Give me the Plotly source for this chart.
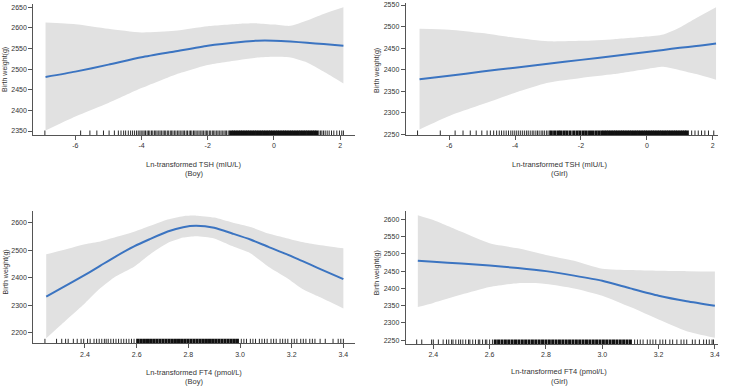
import plotly.graph_objects as go

# ---------------- data ----------------
# Panel 1: Ln TSH, Boy
tsh_boy_x = [-6.9, -6, -5, -4, -3, -2, -1, -0.5, 0, 0.5, 1, 1.5, 2.1]
tsh_boy_fit = [2481, 2494, 2511, 2529, 2543, 2557, 2566, 2569, 2569, 2567, 2564, 2561, 2557]
tsh_boy_upper = [2613, 2609, 2598, 2589, 2593, 2604, 2610, 2611, 2608, 2605, 2618, 2634, 2650]
tsh_boy_lower = [2351, 2385, 2418, 2454, 2486, 2510, 2523, 2528, 2530, 2528, 2516, 2494, 2465]
tsh_boy_rug = [-6.92, -5.84, -5.56, -5.35, -5.15, -4.98, -4.82, -4.70, -4.62, -4.54, -4.48,
               -4.40, -4.33, -4.27, -4.21, -4.15, -4.10, -4.05, -4.01, -3.96, -3.92, -3.88,
               -3.83, -3.79, -3.75, -3.70, -3.66, -3.61, -3.57, -3.53, -3.48, -3.44, -3.40,
               -3.35, -3.31, -3.27, -3.22, -3.18, -3.13, -3.09, -3.05, -3.00, -2.96, -2.91,
               -2.87, -2.83, -2.78, -2.74, -2.70, -2.65, -2.61, -2.56, -2.52, -2.48, -2.43,
               -2.39, -2.35, -2.30, -2.26, -2.21, -2.17, -2.13, -2.08, -2.04, -2.00, -1.95,
               -1.91, -1.86, -1.82, -1.78, -1.73, -1.69, -1.65, -1.60, -1.56, -1.51, -1.47,
               -1.43, -1.38, -1.34, 1.36, 1.41, 1.45, 1.50, 1.55, 1.61, 1.67, 1.74, 1.81,
               1.90, 1.98, 2.05, 2.10]
tsh_boy_rug_dense = [-1.29, -1.22, -1.15, -1.08, -1.01, -0.94, -0.87, -0.80, -0.73, -0.66,
                     -0.59, -0.52, -0.45, -0.38, -0.31, -0.24, -0.17, -0.10, -0.03, 0.04,
                     0.11, 0.18, 0.25, 0.32, 0.39, 0.46, 0.53, 0.60, 0.67, 0.74, 0.81, 0.88,
                     0.95, 1.02, 1.09, 1.16, 1.23, 1.30]

# Panel 2: Ln TSH, Girl
tsh_girl_x = [-6.9, -6, -5, -4, -3, -2, -1, 0, 0.5, 1, 1.5, 2.1]
tsh_girl_fit = [2378, 2386, 2396, 2405, 2414, 2423, 2432, 2441, 2446, 2451, 2455, 2461]
tsh_girl_upper = [2495, 2493, 2485, 2474, 2466, 2467, 2471, 2477, 2482, 2498, 2520, 2545]
tsh_girl_lower = [2262, 2293, 2320, 2347, 2370, 2381, 2390, 2402, 2407, 2399, 2390, 2377]
tsh_girl_rug = [-6.96, -6.27, -5.82, -5.58, -5.36, -5.18, -5.01, -4.85, -4.75, -4.65, -4.56,
                -4.48, -4.41, -4.34, -4.27, -4.20, -4.13, -4.07, -4.01, -3.95, -3.89, -3.83,
                -3.77, -3.71, -3.65, -3.60, -3.54, -3.48, -3.43, -3.37, -3.32, -3.27, -3.21,
                -3.16, -3.11, -3.05, -3.00, -2.95, 1.26, 1.36, 1.46, 1.56, 1.66, 1.76,
                1.87, 2.03]
tsh_girl_rug_dense = [-2.90, -2.80, -2.70, -2.62, -2.52, -2.43, -2.33, -2.22, -2.12, -2.03,
                      -1.93, -1.84, -1.74, -1.65, -1.55, -1.46, -1.37, -1.30, -1.23, -1.16,
                      -1.09, -1.02, -0.95, -0.88, -0.81, -0.74, -0.67, -0.60, -0.53, -0.46,
                      -0.39, -0.32, -0.25, -0.18, -0.11, -0.04, 0.03, 0.10, 0.17, 0.24,
                      0.31, 0.38, 0.45, 0.52, 0.59, 0.66, 0.73, 0.80, 0.87, 0.94, 1.01,
                      1.08, 1.15, 1.21]

# Panel 3: Ln FT4, Boy
ft4_boy_x = [2.25, 2.3, 2.4, 2.46, 2.52, 2.59, 2.65, 2.72, 2.78, 2.83, 2.90, 2.97, 3.04,
             3.11, 3.18, 3.24, 3.3, 3.4]
ft4_boy_fit = [2331, 2357, 2410, 2444, 2478, 2514, 2540, 2568, 2584, 2589, 2582, 2561, 2539,
               2512, 2486, 2461, 2436, 2395]
ft4_boy_upper = [2485, 2497, 2522, 2532, 2548, 2567, 2588, 2612, 2624, 2626, 2619, 2601, 2585,
                 2561, 2544, 2530, 2520, 2507]
ft4_boy_lower = [2179, 2222, 2307, 2362, 2405, 2440, 2484, 2526, 2546, 2551, 2543, 2515, 2489,
                 2440, 2400, 2360, 2333, 2288]
ft4_boy_rug = [2.245, 2.29, 2.31, 2.325, 2.335, 2.355, 2.37, 2.385, 2.395, 2.41, 2.42, 2.435,
               2.445, 2.455, 2.465, 2.475, 2.482, 2.49, 2.50, 2.51, 2.52, 2.53, 2.54, 2.55,
               2.56, 2.57, 2.58, 2.59, 2.60, 3.005, 3.015, 3.025, 3.04, 3.05, 3.06, 3.075,
               3.085, 3.095, 3.105, 3.12, 3.13, 3.14, 3.155, 3.165, 3.175, 3.185, 3.20, 3.21,
               3.22, 3.235, 3.245, 3.255, 3.27, 3.28, 3.29, 3.31, 3.33, 3.36, 3.38, 3.39, 3.40]
ft4_boy_rug_dense = [2.606, 2.618, 2.630, 2.642, 2.654, 2.666, 2.678, 2.690, 2.702, 2.714,
                     2.726, 2.738, 2.750, 2.762, 2.774, 2.786, 2.798, 2.810, 2.822, 2.834,
                     2.846, 2.858, 2.870, 2.882, 2.894, 2.906, 2.918, 2.930, 2.942, 2.954,
                     2.966, 2.978, 2.990]

# Panel 4: Ln FT4, Girl
ft4_girl_x = [2.345, 2.4, 2.5, 2.6, 2.7, 2.8, 2.9, 3.0, 3.1, 3.2, 3.3, 3.4]
ft4_girl_fit = [2480, 2477, 2472, 2466, 2459, 2450, 2437, 2422, 2400, 2379, 2363, 2350]
ft4_girl_upper = [2612, 2598, 2564, 2531, 2516, 2497, 2480, 2457, 2453, 2451, 2450, 2449]
ft4_girl_lower = [2346, 2358, 2382, 2404, 2415, 2413, 2400, 2379, 2346, 2310, 2276, 2257]
ft4_girl_rug = [2.341, 2.359, 2.394, 2.40, 2.418, 2.435, 2.447, 2.455, 2.465, 2.47, 2.48, 2.49,
                2.497, 2.505, 2.515, 2.525, 2.53, 2.54, 2.55, 2.56, 2.565, 2.575, 2.585, 2.59,
                2.60, 2.61, 3.115, 3.125, 3.135, 3.145, 3.16, 3.17, 3.18, 3.19, 3.205, 3.215,
                3.225, 3.24, 3.25, 3.265, 3.28, 3.29, 3.30, 3.32, 3.33, 3.345, 3.36, 3.37,
                3.38, 3.39, 3.395]
ft4_girl_rug_dense = [2.620, 2.632, 2.644, 2.656, 2.668, 2.680, 2.692, 2.704, 2.716, 2.728,
                      2.740, 2.752, 2.764, 2.776, 2.788, 2.800, 2.812, 2.824, 2.836, 2.848,
                      2.860, 2.872, 2.884, 2.896, 2.908, 2.920, 2.932, 2.944, 2.956, 2.968,
                      2.980, 2.992, 3.004, 3.016, 3.028, 3.040, 3.052, 3.064, 3.076, 3.088,
                      3.100]

# tick values / labels
tsh_xticks = [-6, -4, -2, 0, 2]
tsh_xticklabels = ["-6", "-4", "-2", "0", "2"]
ft4_xticks = [2.4, 2.6, 2.8, 3.0, 3.2, 3.4]
ft4_xticklabels = ["2.4", "2.6", "2.8", "3.0", "3.2", "3.4"]
p1_yticks = [2350, 2400, 2450, 2500, 2550, 2600, 2650]
p2_yticks = [2250, 2300, 2350, 2400, 2450, 2500, 2550]
p3_yticks = [2200, 2300, 2400, 2500, 2600]
p4_yticks = [2250, 2300, 2350, 2400, 2450, 2500, 2550, 2600]

x_title_tsh = "Ln-transformed TSH (mIU/L)"
x_title_ft4 = "Ln-transformed FT4 (pmol/L)"
y_title = "Birth weight(g)"
sex_boy = "(Boy)"
sex_girl = "(Girl)"

# ---------------- layout geometry ----------------
W, H = 730, 387
FONT = "Liberation Sans, Arial, sans-serif"
LINE_BLUE = "#3b74c1"
BAND = "#e1e1e1"
AXIS = "#555555"
TXT = "#333333"


def px_x(p):
    return p / W


def px_y(p):
    return 1 - p / H


panels = [
    dict(x=tsh_boy_x, fit=tsh_boy_fit, up=tsh_boy_upper, lo=tsh_boy_lower,
         rug=tsh_boy_rug, rugd=tsh_boy_rug_dense,
         xpx=(33.3, 355), ypx=(4, 135), xr=[-7.27, 2.45], yr=[2340.3, 2658],
         xt=tsh_xticks, xtl=tsh_xticklabels, yt=p1_yticks,
         t1=x_title_tsh, t2=sex_boy, tx=193.5, ty=(164, 173), yx=5, yy=70),
    dict(x=tsh_girl_x, fit=tsh_girl_fit, up=tsh_girl_upper, lo=tsh_girl_lower,
         rug=tsh_girl_rug, rugd=tsh_girl_rug_dense,
         xpx=(405.7, 717.7), ypx=(3.3, 135), xr=[-7.32, 2.15], yr=[2249, 2554],
         xt=tsh_xticks, xtl=tsh_xticklabels, yt=p2_yticks,
         t1=x_title_tsh, t2=sex_girl, tx=559, ty=(164, 173), yx=377, yy=71),
    dict(x=ft4_boy_x, fit=ft4_boy_fit, up=ft4_boy_upper, lo=ft4_boy_lower,
         rug=ft4_boy_rug, rugd=ft4_boy_rug_dense,
         xpx=(33.3, 355), ypx=(210.7, 343.3), xr=[2.2, 3.445], yr=[2161, 2644],
         xt=ft4_xticks, xtl=ft4_xticklabels, yt=p3_yticks,
         t1=x_title_ft4, t2=sex_boy, tx=193.5, ty=(372.7, 381.7), yx=5, yy=272.5),
    dict(x=ft4_girl_x, fit=ft4_girl_fit, up=ft4_girl_upper, lo=ft4_girl_lower,
         rug=ft4_girl_rug, rugd=ft4_girl_rug_dense,
         xpx=(405.7, 717.7), ypx=(210.7, 344), xr=[2.302, 3.41], yr=[2239, 2625],
         xt=ft4_xticks, xtl=ft4_xticklabels, yt=p4_yticks,
         t1=x_title_ft4, t2=sex_girl, tx=559, ty=(371.7, 381), yx=377.3, yy=273),
]

fig = go.Figure()
annotations = []
layout_axes = {}
SMOOTH = 0.6

for i, p in enumerate(panels, start=1):
    xa = "x" if i == 1 else f"x{i}"
    ya = "y" if i == 1 else f"y{i}"
    # confidence band (upper edge, then lower edge filled up to it)
    fig.add_trace(go.Scatter(
        x=p["x"], y=p["up"], mode="lines",
        line=dict(width=0, color=BAND, shape="spline", smoothing=SMOOTH),
        hoverinfo="skip", showlegend=False, xaxis=xa, yaxis=ya))
    fig.add_trace(go.Scatter(
        x=p["x"], y=p["lo"], mode="lines", fill="tonexty", fillcolor=BAND,
        line=dict(width=0, color=BAND, shape="spline", smoothing=SMOOTH),
        hoverinfo="skip", showlegend=False, xaxis=xa, yaxis=ya))
    # fitted curve
    fig.add_trace(go.Scatter(
        x=p["x"], y=p["fit"], mode="lines",
        line=dict(color=LINE_BLUE, width=2, shape="spline", smoothing=SMOOTH),
        showlegend=False, xaxis=xa, yaxis=ya))
    # rug
    ymin, ymax = p["yr"]
    hpx = p["ypx"][1] - p["ypx"][0]
    rug_h = (ymax - ymin) * 4.5 / hpx
    for vals, w, col in ((p["rug"], 1, "#2a2a2a"), (p["rugd"], 3, "#111111")):
        rx, ry = [], []
        for v in vals:
            rx += [v, v, None]
            ry += [ymin, ymin + rug_h, None]
        fig.add_trace(go.Scatter(x=rx, y=ry, mode="lines",
                                 line=dict(color=col, width=w),
                                 hoverinfo="skip", showlegend=False,
                                 xaxis=xa, yaxis=ya))

    xkey = "xaxis" if i == 1 else f"xaxis{i}"
    ykey = "yaxis" if i == 1 else f"yaxis{i}"
    common = dict(showline=True, linecolor=AXIS, linewidth=1, ticks="outside",
                  ticklen=4, tickwidth=1, tickcolor=AXIS, showgrid=False,
                  zeroline=False, tickfont=dict(family=FONT, size=7, color=TXT),
                  automargin=False, fixedrange=True)
    layout_axes[xkey] = dict(common, domain=[px_x(p["xpx"][0]), px_x(p["xpx"][1])],
                             range=p["xr"], anchor=ya, tickvals=p["xt"],
                             ticktext=p["xtl"])
    layout_axes[ykey] = dict(common, domain=[px_y(p["ypx"][1]), px_y(p["ypx"][0])],
                             range=p["yr"], anchor=xa, tickvals=p["yt"])

    annotations.append(dict(text=p["t1"], x=px_x(p["tx"]), y=px_y(p["ty"][0]),
                            xref="paper", yref="paper", showarrow=False,
                            xanchor="center", yanchor="middle",
                            font=dict(family=FONT, size=7.5, color=TXT)))
    annotations.append(dict(text=p["t2"], x=px_x(p["tx"]), y=px_y(p["ty"][1]),
                            xref="paper", yref="paper", showarrow=False,
                            xanchor="center", yanchor="middle",
                            font=dict(family=FONT, size=7.5, color=TXT)))
    annotations.append(dict(text=y_title, x=px_x(p["yx"]), y=px_y(p["yy"]),
                            xref="paper", yref="paper", showarrow=False,
                            textangle=-90, xanchor="center", yanchor="middle",
                            font=dict(family=FONT, size=7, color=TXT)))

fig.update_layout(
    width=W, height=H,
    margin=dict(l=0, r=0, t=0, b=0),
    paper_bgcolor="white", plot_bgcolor="white",
    annotations=annotations,
    showlegend=False,
    **layout_axes,
)

fig.write_html("out.html",
               config={"displayModeBar": False, "staticPlot": True},
               post_script="document.body.style.margin='0px';"
                           "document.body.style.overflow='hidden';")
